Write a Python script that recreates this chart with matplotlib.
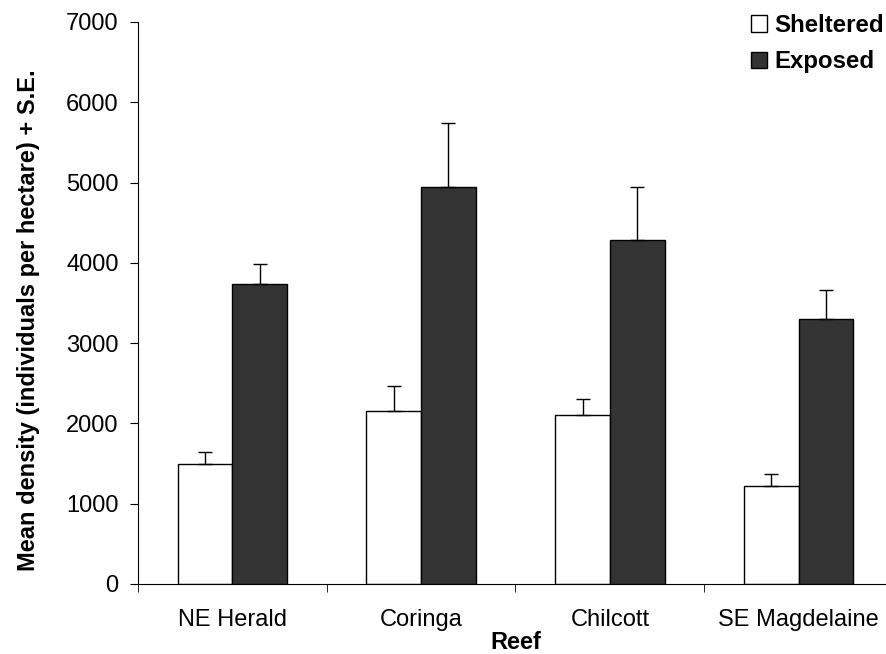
import numpy as np
import matplotlib.pyplot as plt

plt.rcParams['font.family'] = ['Liberation Sans', 'DejaVu Sans']

reefs = ['NE Herald', 'Coringa', 'Chilcott', 'SE Magdelaine']
sheltered = [1500, 2160, 2100, 1215]
sheltered_se = [150, 310, 210, 155]
exposed = [3735, 4940, 4285, 3300]
exposed_se = [255, 805, 655, 360]

fig = plt.figure(figsize=(8.87, 6.54), dpi=100)
ax = fig.add_axes([138/887, 70/654, 755/887, 562/654])

x = np.arange(len(reefs))
w = 0.29
ax.bar(x - w/2, sheltered, w, color='white', edgecolor='black', linewidth=1,
       yerr=[np.zeros(4), sheltered_se], error_kw=dict(ecolor='black', elinewidth=1, capsize=5, capthick=1),
       label='Sheltered')
ax.bar(x + w/2, exposed, w, color='#333333', edgecolor='black', linewidth=1,
       yerr=[np.zeros(4), exposed_se], error_kw=dict(ecolor='black', elinewidth=1, capsize=5, capthick=1),
       label='Exposed')

ax.set_xlim(-0.5, 3.5)
ax.set_ylim(0, 7000)
ax.set_yticks(np.arange(0, 7001, 1000))
ax.set_xticks(x)
ax.set_xticklabels(reefs)
ax.set_xticks(np.arange(-0.5, 3.6, 1), minor=True)
ax.tick_params(axis='x', which='major', length=0, labelsize=17, pad=18)
ax.tick_params(axis='x', which='minor', length=6, direction='out')
ax.tick_params(axis='y', length=6, direction='out', labelsize=17, pad=8)

ax.spines['top'].set_visible(False)
ax.spines['right'].set_visible(False)

ax.set_xlabel('Reef', fontsize=17, fontweight='bold', labelpad=0)
ax.set_ylabel('Mean density (individuals per hectare) + S.E.', fontsize=17, fontweight='bold')
ax.yaxis.set_label_coords(-0.13, 0.47)

fig.legend(loc='upper left', bbox_to_anchor=(751/887, 1 - 14/654), frameon=False,
           prop=dict(size=17.3, weight='bold'), handlelength=0.68, handleheight=0.68,
           handletextpad=0.3, labelspacing=0.55, borderpad=0, borderaxespad=0)

fig.savefig('out.png', dpi=100)
